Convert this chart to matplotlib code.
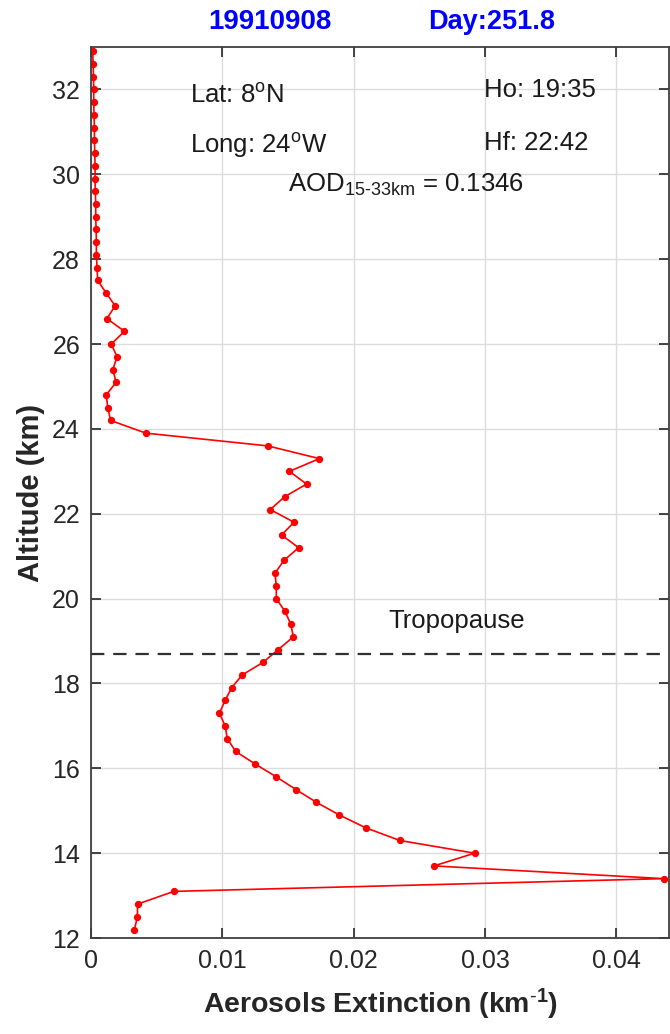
import matplotlib
matplotlib.use("Agg")
import matplotlib.pyplot as plt

plt.rcParams["font.family"] = ["Liberation Sans", "DejaVu Sans"]
plt.rcParams["mathtext.fontset"] = "custom"
plt.rcParams["mathtext.rm"] = "Liberation Sans"
plt.rcParams["mathtext.it"] = "Liberation Sans:italic"
plt.rcParams["mathtext.bf"] = "Liberation Sans:bold"

# profile: altitude (km) and aerosol extinction (km^-1)
altitude = [
    12.2, 12.5, 12.8, 13.1, 13.4, 13.7, 14.0, 14.3, 14.6, 14.9,
    15.2, 15.5, 15.8, 16.1, 16.4, 16.7, 17.0, 17.3, 17.6, 17.9,
    18.2, 18.5, 18.8, 19.1, 19.4, 19.7, 20.0, 20.3, 20.6, 20.9,
    21.2, 21.5, 21.8, 22.1, 22.4, 22.7, 23.0, 23.3, 23.6, 23.9,
    24.2, 24.5, 24.8, 25.1, 25.4, 25.7, 26.0, 26.3, 26.6, 26.9,
    27.2, 27.5, 27.8, 28.1, 28.4, 28.7, 29.0, 29.3, 29.6, 29.9,
    30.2, 30.5, 30.8, 31.1, 31.4, 31.7, 32.0, 32.3, 32.6, 32.9,
]
extinction = [
    0.00330, 0.00352, 0.00354, 0.00630, 0.04360, 0.02610, 0.02920, 0.02350, 0.02090, 0.01890,
    0.01715, 0.01560, 0.01410, 0.01250, 0.01100, 0.01037, 0.01020, 0.00977, 0.01020, 0.01070,
    0.01150, 0.01310, 0.01425, 0.01540, 0.01520, 0.01476, 0.01410, 0.01410, 0.01400, 0.01468,
    0.01580, 0.01450, 0.01545, 0.01364, 0.01473, 0.01640, 0.01510, 0.01738, 0.01344, 0.00417,
    0.00148, 0.00127, 0.00115, 0.00190, 0.00165, 0.00198, 0.00153, 0.00254, 0.00120, 0.00183,
    0.00115, 0.00050, 0.00045, 0.00040, 0.00040, 0.00038, 0.00035, 0.00035, 0.00032, 0.00030,
    0.00030, 0.00028, 0.00025, 0.00025, 0.00022, 0.00020, 0.00020, 0.00018, 0.00015, 0.00012,
]
tropopause = 18.7
x_ticks = [0, 0.01, 0.02, 0.03, 0.04]
x_ticklabels = ["0", "0.01", "0.02", "0.03", "0.04"]
y_ticks = [12, 14, 16, 18, 20, 22, 24, 26, 28, 30, 32]

fig = plt.figure(figsize=(6.7, 10.34), dpi=100)
ax = fig.add_axes([0.136, 0.0928, 0.8625, 0.8617])

ax.plot(extinction, altitude, color="red", lw=1.2, marker=".", ms=8.5)
ax.axhline(tropopause, color="#303030", lw=1.6, ls=(0, (6, 4)))

ax.set_xlim(0, 0.044)
ax.set_ylim(12, 33)
ax.set_xticks(x_ticks)
ax.set_xticklabels(x_ticklabels)
ax.set_yticks(y_ticks)
ax.grid(True, color="#dcdcdc", lw=1.0)
ax.set_axisbelow(True)
ax.tick_params(direction="in", length=7, width=1.2, colors="#262626",
               labelsize=18, top=True, right=True, pad=8)
for s in ax.spines.values():
    s.set_color("#404040")
    s.set_linewidth(1.3)

ax.set_xlabel(r"Aerosols Extinction (km$^{\mathbf{\text{-}1}}$)", fontsize=20.5,
              fontweight="bold", color="#262626", labelpad=10)
ax.set_ylabel("Altitude (km)", fontsize=21, fontweight="bold",
              color="#262626", labelpad=5)

txt = dict(fontsize=18.5, color="#1a1a1a", va="center", ha="left")
ax.text(0.00756, 31.86, r"Lat: 8$^{\mathrm{o}}$N", **txt)
ax.text(0.00756, 30.68, r"Long: 24$^{\mathrm{o}}$W", **txt)
ax.text(0.0150, 29.74, r"AOD$_{\mathrm{15\text{-}33km}}$ = 0.1346", **txt)
ax.text(0.0299, 31.98, "Ho: 19:35", **txt)
ax.text(0.0299, 30.75, "Hf: 22:42", **txt)
ax.text(0.0226, 19.47, "Tropopause", **txt)

fig.text(0.403, 0.979, "19910908", color="#0000ff", fontsize=20,
         fontweight="bold", ha="center", va="center")
fig.text(0.734, 0.979, "Day:251.8", color="#0000ff", fontsize=19.5,
         fontweight="bold", ha="center", va="center")

fig.savefig("out.png", dpi=100, facecolor="white")
